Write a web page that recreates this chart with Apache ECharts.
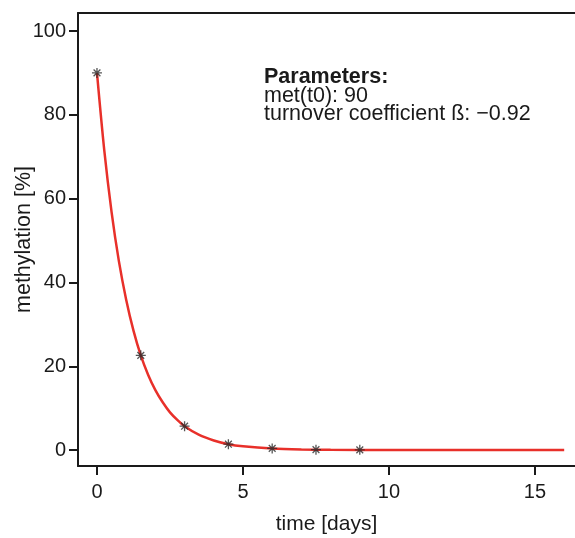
<!DOCTYPE html>
<html><head><meta charset="utf-8">
<script src="https://cdn.jsdelivr.net/npm/echarts@6/dist/echarts.min.js"></script>
<style>html,body{margin:0;padding:0;background:#fff}#c{width:575px;height:538px}</style>
</head><body><div id="c"></div>
<script>
// measured points (time [days], methylation [%])
const measTime = [0, 1.5, 3, 4.5, 6, 7.5, 9];
const measMeth = [90, 22.6, 5.7, 1.4, 0.4, 0.1, 0.05];
// fitted curve, values
const fitTime = [0, 0.25, 0.5, 0.75, 1, 1.25, 1.5, 1.75, 2, 2.25, 2.5, 2.75, 3, 3.5, 4, 4.5, 5, 6, 7, 8, 10, 16];
const fitMeth = [90, 71.5, 56.8, 45.1, 35.9, 28.5, 22.6, 18.0, 14.3, 11.4, 9.0, 7.2, 5.7, 3.6, 2.3, 1.4, 0.9, 0.36, 0.14, 0.06, 0.01, 0];
const xTicks = [0, 5, 10, 15];
const yTicks = [0, 20, 40, 60, 80, 100];
const paramLines = ['Parameters:', 'met(t0): 90', 'turnover coefficient ß: \u22120.92'];

const FONT = '"Liberation Sans", Arial, sans-serif';
const chart = echarts.init(document.getElementById('c'), null, {renderer: 'canvas'});
const asterisk = 'path://M5,0 L5,10 M0,5 L10,5 M1.6,1.6 L8.4,8.4 M1.6,8.4 L8.4,1.6';
chart.setOption({
  animation: false,
  backgroundColor: '#fff',
  grid: {left: 78, top: 13, right: 0, bottom: 72, containLabel: false, outerBoundsMode: 'none'},
  xAxis: [{
    type: 'value', min: -0.65, max: 16.37, position: 'bottom',
    axisLine: {show: true, onZero: false, lineStyle: {color: '#1a1a1a', width: 2}},
    axisTick: {show: true, length: 9, lineStyle: {color: '#1a1a1a', width: 2}, customValues: xTicks},
    axisLabel: {show: true, color: '#1a1a1a', fontSize: 20, fontFamily: FONT, margin: 16, customValues: xTicks, formatter: v => String(v)},
    splitLine: {show: false},
    name: 'time [days]', nameLocation: 'middle', nameGap: 48, nameMoveOverlap: false,
    nameTextStyle: {color: '#1a1a1a', fontSize: 21, fontFamily: FONT}
  }, {
    type: 'value', min: -0.65, max: 16.37, position: 'top',
    axisLine: {show: true, onZero: false, lineStyle: {color: '#1a1a1a', width: 2}},
    axisTick: {show: false}, axisLabel: {show: false}, splitLine: {show: false}
  }],
  yAxis: {
    type: 'value', min: -3.8, max: 104.3,
    axisLine: {show: true, onZero: false, lineStyle: {color: '#1a1a1a', width: 2}},
    axisTick: {show: true, length: 9, lineStyle: {color: '#1a1a1a', width: 2}, customValues: yTicks},
    axisLabel: {show: true, color: '#1a1a1a', fontSize: 20, fontFamily: FONT, margin: 12, customValues: yTicks, formatter: v => String(v)},
    splitLine: {show: false},
    name: 'methylation [%]', nameLocation: 'middle', nameGap: 43, nameRotate: 90, nameMoveOverlap: false,
    nameTextStyle: {color: '#1a1a1a', fontSize: 21.5, fontFamily: FONT}
  },
  series: [{
    type: 'line', xAxisIndex: 0,
    data: fitTime.map((t, i) => [t, fitMeth[i]]),
    showSymbol: false, symbol: 'none', smooth: 0.3,
    lineStyle: {color: '#e8302a', width: 2.5}, z: 2
  }, {
    type: 'scatter', xAxisIndex: 0,
    data: measTime.map((t, i) => [t, measMeth[i]]),
    symbol: asterisk, symbolSize: 10,
    itemStyle: {color: 'none', borderColor: '#2a2a2a', borderWidth: 1.3}, z: 3
  }],
  graphic: [{
    type: 'text', left: 264, top: 66,
    style: {
      text: '{b|' + paramLines[0] + '}\n' + paramLines[1] + '\n' + paramLines[2],
      fontFamily: FONT, fontSize: 21.5, lineHeight: 18, fill: '#1a1a1a',
      rich: {b: {fontWeight: 'bold', fontSize: 21.5, fontFamily: FONT, lineHeight: 21, fill: '#1a1a1a'}}
    }
  }]
});
</script></body></html>
